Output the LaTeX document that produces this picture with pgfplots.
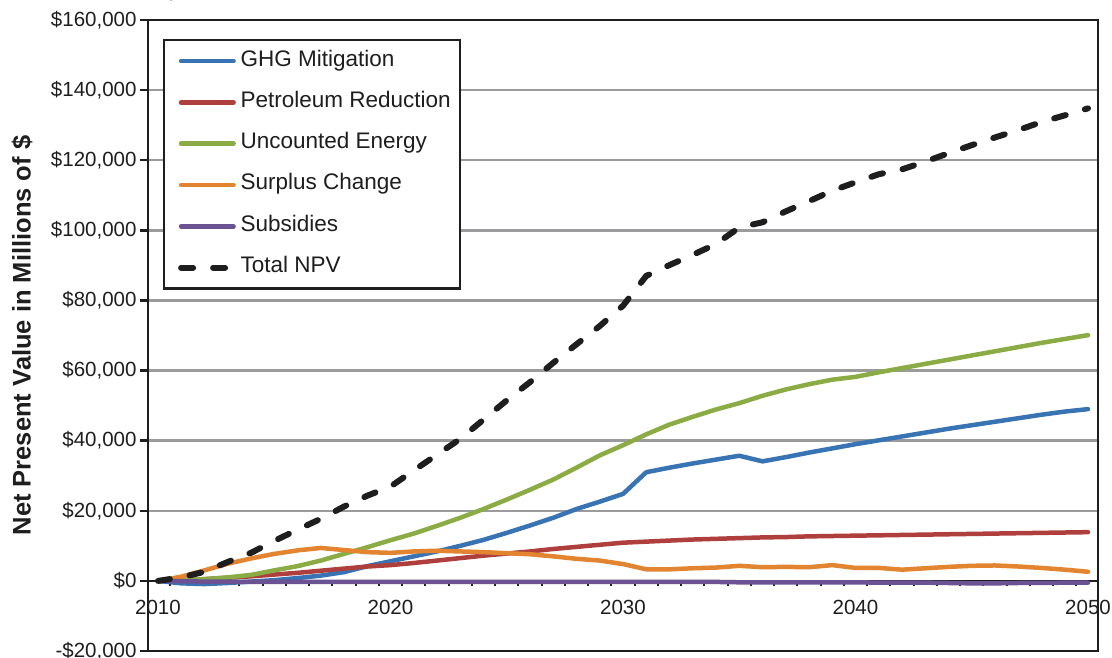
\documentclass[border=0pt]{standalone}
\usepackage{fontspec}
\setmainfont{Liberation Sans}
\usepackage{pgfplots}
\usepackage{pgfplotstable}
\pgfplotsset{compat=1.18}
\definecolor{cblue}{RGB}{56,115,179}
\definecolor{cred}{RGB}{174,63,60}
\definecolor{cgreen}{RGB}{139,172,69}
\definecolor{corange}{RGB}{227,132,48}
\definecolor{cpurple}{RGB}{106,82,147}
\definecolor{cgrid}{RGB}{155,155,157}
\definecolor{cblack}{RGB}{30,30,30}

\pgfplotstableread{
year ghg pet unc sur sub tot
2010 0 0 0 0 0 0
2011 -700 200 200 1200 -100 1000
2012 -900 500 500 3000 -200 2600
2013 -600 900 1000 4900 -200 5400
2014 -200 1300 1700 6400 -300 8000
2015 200 1800 3000 7700 -300 11400
2016 800 2300 4200 8700 -300 14600
2017 1500 2900 5800 9400 -300 17700
2018 2500 3500 7700 8800 -300 21200
2019 4200 4100 9600 8200 -300 24300
2020 5600 4500 11600 8000 -300 26900
2021 7000 5100 13500 8400 -300 31500
2022 8400 5800 15700 8600 -300 36000
2023 10000 6500 18000 8400 -300 40500
2024 11700 7200 20500 8200 -300 46000
2025 13700 7800 23200 7900 -300 51500
2026 15800 8400 26000 7600 -300 56700
2027 18000 9100 28900 7000 -300 62200
2028 20500 9700 32300 6300 -300 67500
2029 22600 10300 35800 5800 -300 72700
2030 24800 10900 38700 4800 -300 78500
2031 31000 11200 41800 3300 -300 87000
2032 32300 11500 44600 3300 -300 90100
2033 33500 11800 46800 3600 -300 93000
2034 34600 12000 48900 3800 -300 96100
2035 35700 12200 50700 4300 -400 100800
2036 34100 12400 52800 3900 -400 102300
2037 35300 12500 54600 4000 -400 105400
2038 36600 12700 56100 3900 -400 108300
2039 37800 12800 57400 4500 -400 111300
2040 39000 12900 58200 3700 -400 113700
2041 40100 13000 59500 3700 -500 116000
2042 41200 13100 60700 3200 -500 117400
2043 42300 13200 61900 3600 -500 119600
2044 43400 13300 63100 4000 -600 122000
2045 44400 13400 64300 4300 -700 124300
2046 45400 13500 65500 4400 -700 126500
2047 46400 13600 66700 4100 -600 128600
2048 47400 13700 67900 3700 -600 130900
2049 48300 13800 69000 3200 -500 132800
2050 49000 13900 70100 2600 -500 134800
}\datatable

\begin{document}
\begin{tikzpicture}
% frame, y axis, grid
\begin{axis}[name=ax,
  scale only axis, width=950pt, height=631pt,
  xmin=2009.57, xmax=2050.43, ymin=-20000, ymax=160000,
  xtick=\empty,
  ytick={-20000,0,...,160000},
  yticklabels={{-\$20,000},{\$0},{\$20,000},{\$40,000},{\$60,000},{\$80,000},{\$100,000},{\$120,000},{\$140,000},{\$160,000}},
  ytick pos=left, tick align=outside, major tick length=8pt,
  every tick/.style={cblack, line width=2.5pt},
  ymajorgrids, major grid style={line width=2.5pt, color=cgrid},
  axis line style={line width=2.8pt, cblack},
  tick label style={font=\fontsize{20.5}{24}\selectfont, text=cblack},
  every axis y label/.style={at={(axis description cs:0,0.5)}, xshift=-126pt, rotate=90, anchor=center},
  ylabel={Net Present Value in Millions of \$},
  ylabel style={font=\fontsize{25.5}{30}\selectfont\bfseries, text=cblack},
]
\end{axis}
% zero line, x ticks and the series
\begin{axis}[
  scale only axis, width=950pt, height=631pt,
  xmin=2009.57, xmax=2050.43, ymin=-20000, ymax=160000,
  axis x line=middle, hide y axis, ytick=\empty,
  x axis line style={-, line width=2.5pt, cblack},
  xtick={2010.5,2011.5,...,2050.5}, xticklabels={},
  xticklabel pos=lower,
  tick align=outside, major tick length=5pt,
  every tick/.style={cblack, line width=2pt},
  hide obscured x ticks=false,
  extra x ticks={2010,2020,2030,2040,2050},
  extra x tick labels={2010,2020,2030,2040,2050},
  extra x tick style={major tick length=0pt, xticklabel pos=lower, tick label style={yshift=-16pt}},
  tick label style={font=\fontsize{20.5}{24}\selectfont, text=cblack},
  legend cell align=left,
  legend image code/.code={\path (0pt,0pt); \draw[#1] (5pt,0pt) -- (57.5pt,0pt);},
  legend style={at={(axis description cs:0,1)}, anchor=north west, xshift=15pt, yshift=-19pt,
    draw=cblack, line width=2.2pt, fill=white, inner xsep=9pt, inner ysep=11pt,
    font=\fontsize{22.5}{26}\selectfont, text=cblack, row sep=21.3pt, column sep=4pt,
    nodes={inner sep=0pt, text height=15pt, text depth=5pt}},
]
\addplot[cblue, line width=4.5pt, line join=round, line cap=round] table[x=year, y=ghg] {\datatable};
\addlegendentry{GHG Mitigation}
\addplot[cred, line width=4.5pt, line join=round, line cap=round] table[x=year, y=pet] {\datatable};
\addlegendentry{Petroleum Reduction}
\addplot[cgreen, line width=4.5pt, line join=round, line cap=round] table[x=year, y=unc] {\datatable};
\addlegendentry{Uncounted Energy}
\addplot[corange, line width=4.5pt, line join=round, line cap=round] table[x=year, y=sur] {\datatable};
\addlegendentry{Surplus Change}
\addplot[cpurple, line width=4.5pt, line join=round, line cap=round] table[x=year, y=sub] {\datatable};
\addlegendentry{Subsidies}
\addplot[cblack, line width=6pt, line cap=round, dash pattern=on 12pt off 20pt] table[x=year, y=tot] {\datatable};
\addlegendentry{Total NPV}
\end{axis}
\pgfresetboundingbox
\path[use as bounding box] ([shift={(-148pt,-6pt)}]ax.south west) rectangle ([shift={(964pt,651pt)}]ax.south west);
\end{tikzpicture}
\end{document}
